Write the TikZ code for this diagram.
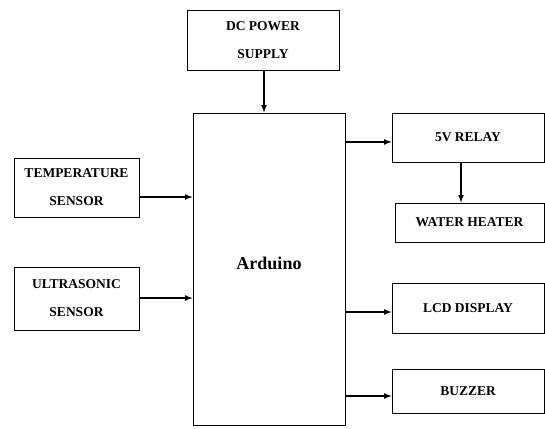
\documentclass[tikz,border=0pt]{standalone}
\usepackage{fontspec}
\setmainfont{Liberation Serif}
\usepackage{tikz}
\usetikzlibrary{positioning}

\begin{document}
\begin{tikzpicture}[x=1pt, y=-1pt, >=latex,
    every node/.style={font=\fontsize{13.5}{28}\selectfont\bfseries, align=center},
    block/.style={draw, line width=0.8pt, inner sep=0pt},
    link/.style={->, line width=1.6pt}]
  \useasboundingbox (0,0) rectangle (545,428);
  \node[block, minimum width=152, minimum height=60] (power) at (263,40) {DC POWER\\SUPPLY};
  \node[block, minimum width=152, minimum height=312, font=\fontsize{18}{20}\selectfont\bfseries] (arduino) at (269,269) {Arduino\\[-8pt]};
  \node[block, minimum width=125, minimum height=59] (temp) at (76.5,187.5) {TEMPERATURE\\SENSOR};
  \node[block, minimum width=125, minimum height=63] (ultra) at (76.5,298.5) {ULTRASONIC\\SENSOR};
  \node[block, minimum width=152, minimum height=49] (relay) at (468,137.5) {5V RELAY};
  \node[block, minimum width=149, minimum height=39] (heater) at (469.5,222.5) {WATER HEATER};
  \node[block, minimum width=152, minimum height=50] (lcd) at (468,308) {LCD DISPLAY};
  \node[block, minimum width=152, minimum height=44] (buzzer) at (468,391) {BUZZER};
  \draw[link] ([xshift=1]power.south) -- ([xshift=1]power.south |- arduino.north);
  \draw[link] ([yshift=-9.5]temp.east) -- ([yshift=-9.5]temp.east -| arduino.west);
  \draw[link] ([yshift=0.5]ultra.east) -- ([yshift=0.5]ultra.east -| arduino.west);
  \draw[link] ([yshift=-4.5]relay.west -| arduino.east) -- ([yshift=-4.5]relay.west);
  \draw[link] ([xshift=-7]relay.south) -- ([xshift=-7]relay.south |- heater.north);
  \draw[link] ([yshift=-4]lcd.west -| arduino.east) -- ([yshift=-4]lcd.west);
  \draw[link] ([yshift=-5]buzzer.west -| arduino.east) -- ([yshift=-5]buzzer.west);
\end{tikzpicture}
\end{document}
